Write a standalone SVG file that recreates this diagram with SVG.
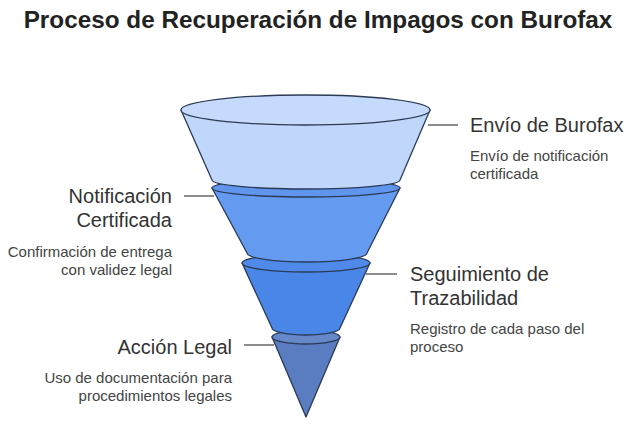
<svg xmlns="http://www.w3.org/2000/svg" width="636" height="424" viewBox="0 0 636 424">
<style>
.seg{stroke:#2b3a55;stroke-width:1.3;stroke-linejoin:round}
.ln{stroke:#666;stroke-width:1.5;fill:none}
text{font-family:"Liberation Sans",Arial,sans-serif;fill:#333}
.h{font-size:20px}
.d{font-size:15px;fill:#444}
.r{text-anchor:end}
</style>
<rect width="636" height="424" fill="#fff"/>
<text x="318" y="28" text-anchor="middle" style="font-size:24.3px;font-weight:bold;fill:#222">Proceso de Recuperación de Impagos con Burofax</text>
<g id="connectors">
<line class="ln" x1="428" y1="125" x2="458" y2="125"/>
<line class="ln" x1="214" y1="196" x2="184" y2="196"/>
<line class="ln" x1="366" y1="274" x2="397" y2="274"/>
<line class="ln" x1="274" y1="345" x2="244" y2="345"/>
</g>
<g id="seg4">
<path class="seg" fill="#5a7cc0" d="M272 337 L306 417 L340 337 Z"/>
<ellipse class="seg" fill="#6588c9" cx="306" cy="337" rx="34" ry="7"/>
</g>
<g id="seg3">
<path class="seg" fill="#4a86e8" d="M242 263 L272 328 A34 7 0 0 0 340 328 L370 263 Z"/>
<ellipse class="seg" fill="#4f8aea" cx="306" cy="263" rx="64" ry="9"/>
</g>
<g id="seg2">
<path class="seg" fill="#649bf0" d="M212 188 L247 253 A60 9 0 0 0 367 253 L400 188 Z"/>
<ellipse class="seg" fill="#5f95ed" cx="306" cy="188" rx="94" ry="9"/>
</g>
<g id="seg1">
<path class="seg" fill="#c0d7fb" d="M181 110 L212 180 A94 9 0 0 0 400 180 L430 110 Z"/>
<ellipse class="seg" fill="#c6dbfb" cx="305.5" cy="110" rx="124.5" ry="15"/>
</g>
<g id="n1">
<text class="h" x="470" y="132">Envío de Burofax</text>
<text class="d" x="470" y="161">Envío de notificación</text>
<text class="d" x="470" y="179">certificada</text>
</g>
<g id="n2">
<text class="h r" x="172" y="203">Notificación</text>
<text class="h r" x="172" y="227">Certificada</text>
<text class="d r" x="172" y="257">Confirmación de entrega</text>
<text class="d r" x="172" y="275">con validez legal</text>
</g>
<g id="n3">
<text class="h" x="410" y="281">Seguimiento de</text>
<text class="h" x="410" y="305">Trazabilidad</text>
<text class="d" x="410" y="334">Registro de cada paso del</text>
<text class="d" x="410" y="352">proceso</text>
</g>
<g id="n4">
<text class="h r" x="232" y="354">Acción Legal</text>
<text class="d r" x="232" y="383">Uso de documentación para</text>
<text class="d r" x="232" y="401">procedimientos legales</text>
</g>
</svg>
